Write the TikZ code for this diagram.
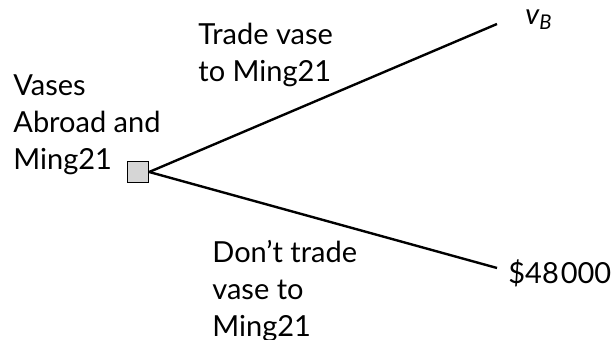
\documentclass[tikz,border=0pt]{standalone}
\usepackage{fontspec}
\setmainfont{Lato}
\usetikzlibrary{positioning}
\definecolor{choicegray}{HTML}{D6D6D6}

\begin{document}
\begin{tikzpicture}[x=0.5pt, y=0.5pt, every node/.style={font=\fontsize{14.5}{18.5}\selectfont}]
  \useasboundingbox (0,0) rectangle (611,340);
  % decision square and the two branches
  \node[draw, fill=choicegray, line width=0.7pt, minimum size=10.5pt, inner sep=0] (choice) at (138,168) {};
  \coordinate (tradeEnd) at (497,316);
  \coordinate (keepEnd) at (497,72);
  \draw[line width=1.2pt] (choice.east) -- (tradeEnd);
  \draw[line width=1.2pt] (choice.east) -- (keepEnd);
  % labels
  \node[anchor=north west, inner sep=0, align=left] (who) at (13,266) {Vases\\Abroad and\\Ming21};
  \node[anchor=north west, inner sep=0, align=left] (trade) at (198,317) {Trade vase\\to Ming21};
  \node[anchor=north west, inner sep=0, align=left] (keep) at (212,100) {Don’t trade\\vase to\\Ming21};
  \node[anchor=base west, inner sep=0] (payTrade) at (525,315) {\itshape v\textsubscript{B}};
  \node[anchor=base west, inner sep=0] (payKeep) at (508,56) {\$48\hspace{1pt}000};
\end{tikzpicture}
\end{document}
